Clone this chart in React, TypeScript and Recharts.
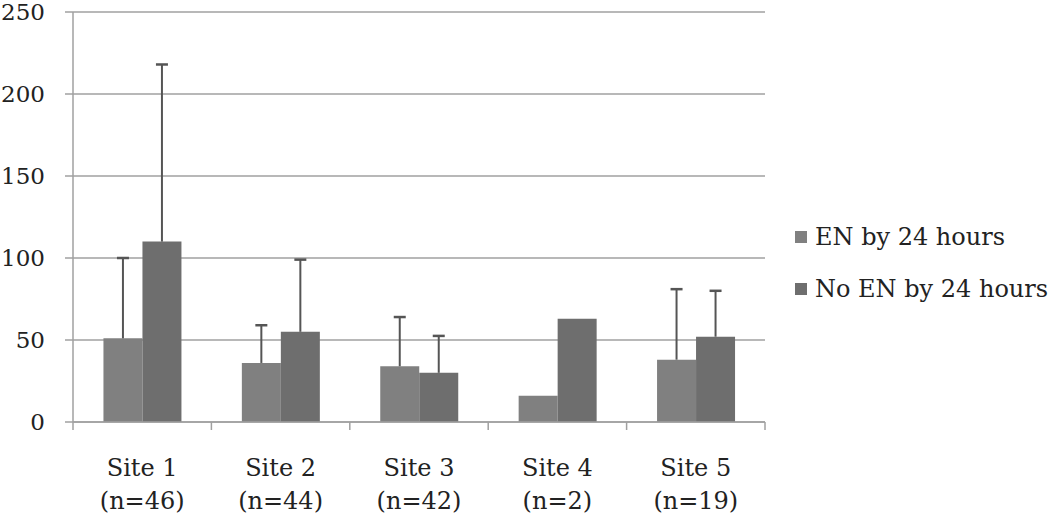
import { Bar, BarChart, CartesianGrid, XAxis, YAxis } from "recharts";

const sites = ["Site 1", "Site 2", "Site 3", "Site 4", "Site 5"];
const sampleSizes = ["(n=46)", "(n=44)", "(n=42)", "(n=2)", "(n=19)"];
const enValues = [51, 36, 34, 16, 38];
const noEnValues = [110, 55, 30, 63, 52];
// upper error only (SD); site 4 has none
const enErr = [49, 23, 30, 0, 43];
const noEnErr = [108, 44, 22.5, 0, 28];
const yTicks = [0, 50, 100, 150, 200, 250];

const FONT = "'DejaVu Serif', serif";
const EN_COLOR = "#808080";
const NO_EN_COLOR = "#6e6e6e";
const ERR_COLOR = "#555";

const data = sites.map((site, i) => ({
  site,
  n: sampleSizes[i],
  en: enValues[i],
  noEn: noEnValues[i],
  enErr: enErr[i],
  noEnErr: noEnErr[i],
}));

const CHART_W = 1050;
const CHART_H = 525;
const LEFT = 73;
const RIGHT = 285;
const bandWidth = (CHART_W - LEFT - RIGHT) / sites.length;

function SiteTick(props: any) {
  const { x, y, payload, index } = props;
  const row = data[index] ?? data.find((d) => d.site === payload.value);
  const half = bandWidth / 2;
  return (
    <g>
      <line x1={x - half} y1={y} x2={x - half} y2={y + 8} stroke="#a0a0a0" strokeWidth={1.5} />
      {index === sites.length - 1 && (
        <line x1={x + half} y1={y} x2={x + half} y2={y + 8} stroke="#a0a0a0" strokeWidth={1.5} />
      )}
      <text x={x} y={y + 54} textAnchor="middle" fontFamily={FONT} fontSize={24} fill="#222">
        {payload.value}
      </text>
      <text x={x} y={y + 87} textAnchor="middle" fontFamily={FONT} fontSize={24} fill="#222">
        {row ? row.n : ""}
      </text>
    </g>
  );
}

// draws the upper whisker over the stacked error segment
function Whisker(props: any) {
  const { x, y, width, height } = props;
  if (!height || height <= 0) return null;
  const cx = x + width / 2;
  return (
    <g>
      <line x1={cx} y1={y} x2={cx} y2={y + height} stroke={ERR_COLOR} strokeWidth={2} />
      <line x1={cx - 6} y1={y} x2={cx + 6} y2={y} stroke={ERR_COLOR} strokeWidth={2.5} />
    </g>
  );
}

function SideLegend() {
  const items = [
    { label: "EN by 24 hours", color: EN_COLOR },
    { label: "No EN by 24 hours", color: NO_EN_COLOR },
  ];
  return (
    <div
      style={{
        position: "absolute",
        left: 795,
        top: 211,
        fontFamily: FONT,
        fontSize: 24,
        color: "#222",
        whiteSpace: "nowrap",
      }}
    >
      {items.map((it) => (
        <div key={it.label} style={{ display: "flex", alignItems: "center", height: 52 }}>
          <span style={{ width: 12, height: 12, background: it.color, marginRight: 8, display: "inline-block" }} />
          <span>{it.label}</span>
        </div>
      ))}
    </div>
  );
}

export default function App() {
  return (
    <div style={{ position: "absolute", left: 0, top: 0, width: CHART_W, height: CHART_H, background: "#fff" }}>
      <BarChart
        width={CHART_W}
        height={CHART_H}
        data={data}
        margin={{ top: 12, right: RIGHT, bottom: 0, left: 0 }}
        barCategoryGap="22%"
        barGap={0}
      >
        <CartesianGrid vertical={false} stroke="#a0a0a0" strokeWidth={1.5} />
        <XAxis
          dataKey="site"
          height={103}
          axisLine={{ stroke: "#a0a0a0", strokeWidth: 1.5 }}
          tickLine={false}
          tickSize={0}
          tickMargin={0}
          interval={0}
          tick={<SiteTick />}
        />
        <YAxis
          width={LEFT}
          domain={[0, 250]}
          ticks={yTicks}
          interval={0}
          axisLine={{ stroke: "#a0a0a0", strokeWidth: 1.5 }}
          tickLine={{ stroke: "#a0a0a0", strokeWidth: 1.5 }}
          tickSize={8}
          tickMargin={20}
          tick={{ fontFamily: FONT, fontSize: 23, fill: "#222" }}
        />
        <Bar dataKey="en" stackId="en" name="EN by 24 hours" fill={EN_COLOR} isAnimationActive={false} />
        <Bar dataKey="enErr" stackId="en" shape={<Whisker />} isAnimationActive={false} />
        <Bar dataKey="noEn" stackId="noEn" name="No EN by 24 hours" fill={NO_EN_COLOR} isAnimationActive={false} />
        <Bar dataKey="noEnErr" stackId="noEn" shape={<Whisker />} isAnimationActive={false} />
      </BarChart>
      <SideLegend />
    </div>
  );
}
